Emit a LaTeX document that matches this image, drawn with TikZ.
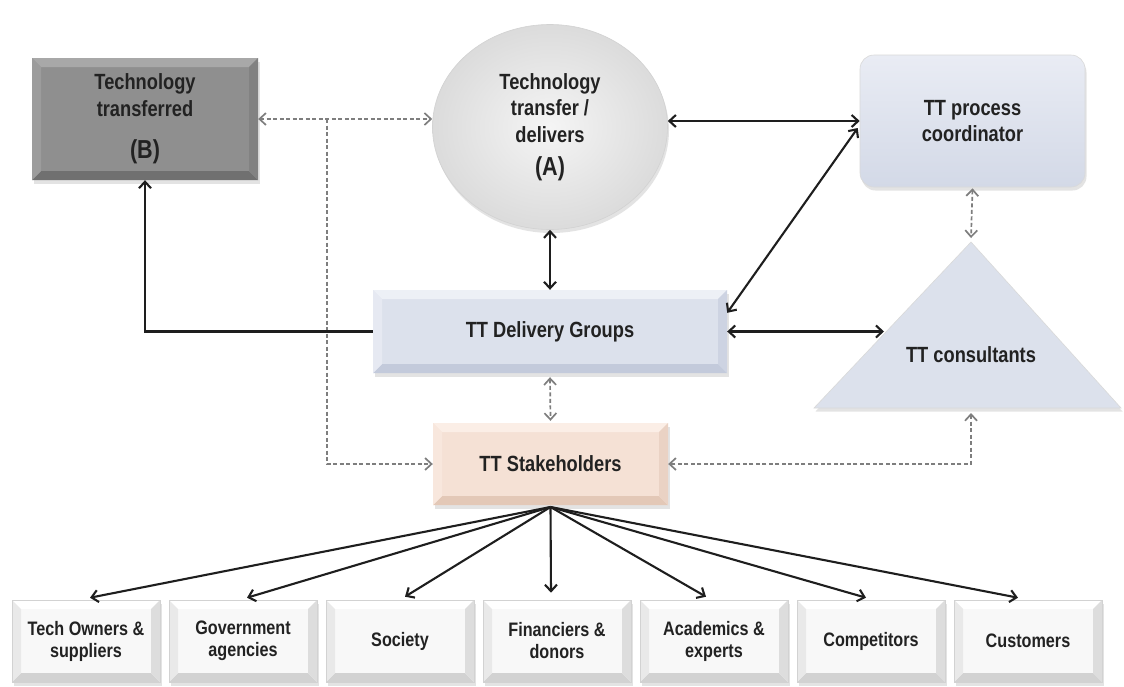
\documentclass[tikz,border=0pt]{standalone}
\usepackage{fontspec}
\setmainfont[FakeStretch=0.83]{Liberation Sans}
\usetikzlibrary{arrows.meta,shapes.geometric,shadows,calc}
\definecolor{txt}{HTML}{222222}
\definecolor{ln}{HTML}{1E1E1E}
\definecolor{dg}{HTML}{7E7E7E}
\definecolor{bC}{HTML}{8F8F8F}\definecolor{bT}{HTML}{A8A8A8}\definecolor{bB}{HTML}{707070}\definecolor{bL}{HTML}{9C9C9C}\definecolor{bR}{HTML}{828282}
\definecolor{dC}{HTML}{DCE1EC}\definecolor{dT}{HTML}{EDF0F6}\definecolor{dB}{HTML}{C3CADB}\definecolor{dL}{HTML}{E6E9F2}\definecolor{dR}{HTML}{CDD3E2}
\definecolor{sC}{HTML}{F5E1D5}\definecolor{sT}{HTML}{FBEEE6}\definecolor{sB}{HTML}{E3C8B7}\definecolor{sL}{HTML}{F8E7DD}\definecolor{sR}{HTML}{EAD2C4}
\definecolor{wC}{HTML}{F8F8F8}\definecolor{wT}{HTML}{FFFFFF}\definecolor{wB}{HTML}{D2D2D2}\definecolor{wL}{HTML}{E9E9E9}\definecolor{wR}{HTML}{DDDDDD}
\definecolor{coT}{HTML}{E9ECF4}\definecolor{coB}{HTML}{D3D9E7}
\definecolor{triC}{HTML}{DCE1EC}
\newcommand\mfs{\fontsize{22pt}{26.5pt}\selectfont\bfseries}
\newcommand\sfs{\fontsize{19.5pt}{22pt}\selectfont\bfseries}
\newcommand\lfs{\fontsize{26pt}{30pt}\selectfont\bfseries}
\def\bevw{9pt}
\tikzset{
  bev/.style n args={5}{fill=#1, path picture={
    \fill[#2] (path picture bounding box.north west) -- (path picture bounding box.north east)
      -- ([shift={(-\bevw,-\bevw)}]path picture bounding box.north east)
      -- ([shift={(\bevw,-\bevw)}]path picture bounding box.north west) -- cycle;
    \fill[#3] (path picture bounding box.south west) -- (path picture bounding box.south east)
      -- ([shift={(-\bevw,\bevw)}]path picture bounding box.south east)
      -- ([shift={(\bevw,\bevw)}]path picture bounding box.south west) -- cycle;
    \fill[#4] (path picture bounding box.north west) -- (path picture bounding box.south west)
      -- ([shift={(\bevw,\bevw)}]path picture bounding box.south west)
      -- ([shift={(\bevw,-\bevw)}]path picture bounding box.north west) -- cycle;
    \fill[#5] (path picture bounding box.north east) -- (path picture bounding box.south east)
      -- ([shift={(-\bevw,\bevw)}]path picture bounding box.south east)
      -- ([shift={(-\bevw,-\bevw)}]path picture bounding box.north east) -- cycle;
  }},
  shad/.style={drop shadow={opacity=0.22,shadow xshift=1.5pt,shadow yshift=-3.5pt}},
  sol/.style={draw=ln, line width=2.1pt},
  dsh/.style={draw=dg, line width=1.7pt, dash pattern=on 4pt off 2.5pt},
  bot/.style={shad, bev={wC}{wT}{wB}{wL}{wR}, draw=gray!35, line width=0.6pt,
    minimum width=148, minimum height=82, font=\sfs},
}
\begin{document}
\begin{tikzpicture}[x=1pt,y=-1pt,>={Straight Barb[length=6.5pt,width=12pt]},
  every node/.style={align=center, inner sep=0pt, text=txt, font=\mfs}]
\useasboundingbox[fill=white] (0,0) rectangle (1124,686);

% main nodes
\node[shad, bev={bC}{bT}{bB}{bL}{bR}, minimum width=226, minimum height=122] (B) at (145,119)
  {Technology\\transferred\\[16pt]{\lfs (B)}};
\node[ellipse, shad, shading=radial, inner color=gray!8, outer color=gray!28, draw=gray!35,
  line width=0.6pt, minimum width=235, minimum height=205] (A) at (550,127)
  {Technology\\transfer /\\delivers\\[7pt]{\lfs (A)}};
\node[shad, rounded corners=14pt, top color=coT, bottom color=coB, draw=gray!30, line width=0.6pt,
  minimum width=225, minimum height=132] (co) at (972.5,121) {TT process\\coordinator};
\node[shad, bev={dC}{dT}{dB}{dL}{dR}, minimum width=354, minimum height=83] (dl) at (550,331.5)
  {TT Delivery Groups};
\node[shad, bev={sC}{sT}{sB}{sL}{sR}, minimum width=235, minimum height=82] (stk) at (550.5,464)
  {TT Stakeholders};

% triangle
\coordinate (tapex) at (971,242);
\coordinate (tleft) at (814,408);
\coordinate (tright) at (1121,408);
\fill[triC, shad, draw=gray!30, line width=0.6pt] (tapex) -- (tright) -- (tleft) -- cycle;
\node (cons) at (971,355) {TT consultants};
\coordinate (tedge) at (884,331.5);
\coordinate (tbot) at (971,413);

% bottom boxes
\node[bot] (b1) at (86,641)   {Tech Owners \&\\suppliers};
\node[bot] (b2) at (243,641)  {Government\\agencies};
\node[bot] (b3) at (400,641)  {Society};
\node[bot] (b4) at (557,641)  {Financiers \&\\donors};
\node[bot] (b5) at (714,641)  {Academics \&\\experts};
\node[bot] (b6) at (871,641)  {Competitors};
\node[bot] (b7) at (1028,641) {Customers};

% dashed connectors
\coordinate (j1) at (327,119);
\draw[dsh,<->] (B.east) -- (B.east -| A.west);
\draw[dsh,->] (j1) |- (stk.west);
\draw[dsh,<->] ([yshift=-4pt]dl.south) -- ([yshift=2pt]stk.north);
\draw[dsh,<->] ([yshift=-1pt]co.south) -- ([yshift=4pt]tapex);
\draw[dsh,<->] (tbot) |- (stk.east);

% solid connectors
\draw[sol,<->] (co.west) -- (co.west -| A.east);
\draw[sol,<->] (A.south) -- (A.south |- dl.north);
\draw[sol,->] (dl.west) -| (B.south);
\draw[sol,<->] ([yshift=-23pt]dl.north east) -- ([shift={(-2pt,-7pt)}]co.west);
\draw[sol,<->] (dl.east) -- (tedge);

% stakeholders to groups
\coordinate (hub) at (550.5,507);
\draw[sol,->] (hub) -- ([xshift=4pt,yshift=2pt]b1.north);
\draw[sol,->] (hub) -- ([xshift=4pt,yshift=2pt]b2.north);
\draw[sol,->] (hub) -- ([xshift=5pt,yshift=3pt]b3.north);
\draw[sol,->] (hub) -- ([xshift=-6pt,yshift=7pt]b4.north);
\draw[sol,->] (hub) -- ([xshift=-8pt,yshift=3pt]b5.north);
\draw[sol,->] (hub) -- ([xshift=-5pt,yshift=2pt]b6.north);
\draw[sol,->] (hub) -- ([xshift=-10pt,yshift=2pt]b7.north);
\end{tikzpicture}
\end{document}
